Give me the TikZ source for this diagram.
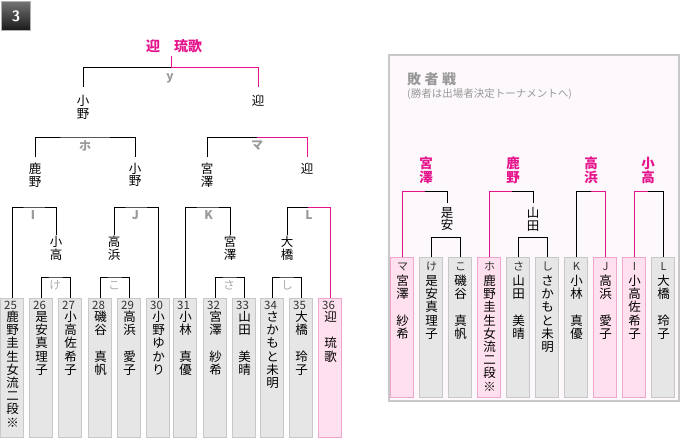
\documentclass[tikz,border=0pt]{standalone}
\usepackage{fontspec}
\newfontfamily\jp{Noto Sans CJK JP}
\definecolor{pk}{RGB}{230,20,140}
\definecolor{lblc}{RGB}{153,153,153}
\definecolor{lblc2}{RGB}{170,170,170}
\definecolor{gfill}{RGB}{230,230,230}
\definecolor{gline}{RGB}{200,200,200}
\definecolor{pfill}{RGB}{255,224,239}
\definecolor{pline}{RGB}{240,165,205}
\definecolor{panelbg}{RGB}{253,248,252}
\definecolor{panelln}{RGB}{200,200,200}
\definecolor{numc}{RGB}{51,51,51}
\makeatletter
\newdimen\vtpitch \vtpitch=13pt
\def\vtxtend@{VTEND}
\newcommand\vtxt[1]{\vtop{\baselineskip=\vtpitch\lineskiplimit=-100pt\lineskip=0pt\vtxt@loop#1\vtxtend@}}
\def\vtxt@loop#1{\ifx#1\vtxtend@\else\hbox to 1em{\hss#1\hss}\expandafter\vtxt@loop\fi}
\makeatother
\tikzset{
 ln/.style={line width=1pt,draw=black},
 pl/.style={line width=1pt,draw=pk},
 lbox/.style={draw=gline,fill=gfill,line width=1pt,minimum width=23pt,minimum height=139pt,inner sep=0pt,anchor=north},
 lpbox/.style={lbox,draw=pline,fill=pfill},
 rbox/.style={lbox,minimum width=23.5pt,minimum height=140pt},
 rpbox/.style={rbox,draw=pline,fill=pfill},
 vname/.style={inner sep=0pt,anchor=base,font={\jp\fontsize{12.5}{13}\selectfont\vtpitch=13.2pt}},
 tname/.style={inner xsep=0pt,anchor=north,font={\jp\fontsize{12.5}{13}\selectfont\vtpitch=12.5pt}},
 wname/.style={inner sep=0pt,anchor=base,text=pk,font={\jp\bfseries\fontsize{13.5}{14}\selectfont\vtpitch=14pt}},
 numl/.style={inner sep=0pt,anchor=base west,text=numc,font={\jp\fontsize{11.5}{12}\selectfont}},
 rlab/.style={inner sep=0pt,anchor=base,text=numc,font={\jp\fontsize{11}{12}\selectfont}},
 blbl/.style={inner sep=0pt,text=lblc,font={\jp\bfseries\fontsize{12}{12}\selectfont}},
 slbl/.style={inner sep=0pt,text=lblc2,font={\jp\fontsize{11.5}{12}\selectfont}},
}
\newcommand\leafL[5]{\node[#5] (#1) at (#2,298) {};
 \node[numl] at (#2-8,309) {#3};
 \node[vname] at (#2+0.5,321.5) {\vtxt{#4}};}
\newcommand\leafR[5]{\node[#5] (#1) at (#2,257.3) {};
 \node[rlab] at (#2+0.5,270.2) {#3};
 \node[vname] at (#2+0.5,285.5) {\vtxt{#4}};}
\begin{document}
\begin{tikzpicture}[x=1pt,y=-1pt]
\useasboundingbox (0,0) rectangle (680,440);
% badge
\node[draw=gray!60,line width=1pt,top color=black!55,bottom color=black!90,minimum size=29pt,inner sep=0pt,text=white,font={\sffamily\bfseries\fontsize{15}{15}\selectfont}] (badge) at (16,16) {3};
% ---------- left bracket ----------
\node[inner xsep=0pt,inner ysep=3.5pt,text=pk,font={\jp\bfseries\fontsize{14}{14}\selectfont}] (champ) at (174,46) {迎　琉歌};
\coordinate (jT) at (171,67);
\draw[pl] (jT) -- (jT |- champ.south);
\node[tname,inner ysep=8.5pt] (a1) at (83,86.7) {\vtxt{小野}};
\node[tname,inner ysep=8.5pt] (a2) at (258,86.7) {\vtxt{迎}};
\draw[ln] (a1.north) |- (jT);
\draw[pl] (jT) -| (a2.north);
\node[blbl] at (170,78) {y};
% level 2
\node[tname,inner ysep=5.5pt] (b1) at (35,157.3) {\vtxt{鹿野}};
\node[tname,inner ysep=5.5pt] (b2) at (135,157.3) {\vtxt{小野}};
\node[tname,inner ysep=5.5pt] (b3) at (207,157.3) {\vtxt{宮澤}};
\node[tname,inner ysep=5.5pt] (b4) at (307,157.3) {\vtxt{迎}};
\coordinate (jHo) at (85,137);
\coordinate (jMa) at (257,137);
\draw[ln] (b1.north) |- (jHo) -| (b2.north);
\draw[ln] (b3.north) |- (jMa);
\draw[pl] (jMa) -| (b4.north);
\node[blbl] at (85,146) {ホ};
\node[blbl] at (257,146) {マ};
% leaves
\leafL{l25}{12}{25}{鹿野圭生女流二段※}{lbox}
\leafL{l26}{41}{26}{是安真理子}{lbox}
\leafL{l27}{70}{27}{小高佐希子}{lbox}
\leafL{l28}{100}{28}{磯谷　真帆}{lbox}
\leafL{l29}{129}{29}{高浜　愛子}{lbox}
\leafL{l30}{158}{30}{小野ゆかり}{lbox}
\leafL{l31}{185}{31}{小林　真優}{lbox}
\leafL{l32}{215}{32}{宮澤　紗希}{lbox}
\leafL{l33}{244}{33}{山田　美晴}{lbox}
\leafL{l34}{272}{34}{さかもと未明}{lbox}
\leafL{l35}{301}{35}{大橋　玲子}{lbox}
\leafL{l36}{330}{36}{迎　琉歌}{lpbox}
% level 3
\node[tname,inner ysep=1.25pt] (c1) at (56,235) {\vtxt{小高}};
\node[tname,inner ysep=1.25pt] (c2) at (114,235) {\vtxt{高浜}};
\node[tname,inner ysep=1.25pt] (c3) at (230,235) {\vtxt{宮澤}};
\node[tname,inner ysep=1.25pt] (c4) at (287,235) {\vtxt{大橋}};
\coordinate (jI) at (34,207);
\coordinate (jJ) at (136,207);
\coordinate (jK) at (207.5,207);
\coordinate (jL) at (308,207);
\draw[ln] (l25.north) |- (jI) -| (c1.north);
\draw[ln] (c2.north) |- (jJ) -| (l30.north);
\draw[ln] (l31.north) |- (jK) -| (c3.north);
\draw[ln] (c4.north) |- (jL);
\draw[pl] (jL) -| (l36.north);
\node[blbl] at (33,215.5) {I};
\node[blbl] at (135.5,215.5) {J};
\node[blbl] at (208.5,215.5) {K};
\node[blbl] at (309,215.5) {L};
% level 4
\coordinate (jKe) at (55.5,277);
\coordinate (jKo) at (114.5,277);
\coordinate (jSa) at (229.5,277);
\coordinate (jShi) at (286.5,277);
\draw[ln] (l26.north) |- (jKe) -| (l27.north);
\draw[ln] (l28.north) |- (jKo) -| (l29.north);
\draw[ln] (l32.north) |- (jSa) -| (l33.north);
\draw[ln] (l34.north) |- (jShi) -| (l35.north);
\node[slbl] at (55,285.5) {け};
\node[slbl] at (114,285.5) {こ};
\node[slbl] at (229,285.5) {さ};
\node[slbl] at (287,285.5) {し};
% ---------- right panel ----------
\node[draw=panelln,fill=panelbg,line width=1.5pt,minimum width=290pt,minimum height=346pt,anchor=north west,inner sep=0pt] (panel) at (388,54) {};
\node[anchor=base west,inner sep=0pt,text=lblc,font={\jp\bfseries\fontsize{14}{14}\selectfont}] (ptitle) at (407,84.3) {敗\hspace{3.5pt}者\hspace{3.5pt}戦};
\node[anchor=base west,inner sep=0pt,text=lblc,font={\jp\fontsize{10.5}{11}\selectfont}] (psub) at (407,97) {(勝者は出場者決定トーナメントへ)};
\node[wname] (w1) at (426,168) {\vtxt{宮澤}};
\node[wname] (w2) at (513,168) {\vtxt{鹿野}};
\node[wname] (w3) at (591,168) {\vtxt{高浜}};
\node[wname] (w4) at (648,168) {\vtxt{小高}};
\leafR{rMa}{402}{マ}{宮澤　紗希}{rpbox}
\leafR{rKe}{431}{け}{是安真理子}{rbox}
\leafR{rKo}{460}{こ}{磯谷　真帆}{rbox}
\leafR{rHo}{489}{ホ}{鹿野圭生女流二段※}{rpbox}
\leafR{rSa}{518}{さ}{山田　美晴}{rbox}
\leafR{rShi}{547}{し}{さかもと未明}{rbox}
\leafR{rK}{576}{K}{小林　真優}{rbox}
\leafR{rJ}{605}{J}{高浜　愛子}{rpbox}
\leafR{rI}{634}{I}{小高佐希子}{rpbox}
\leafR{rL}{663}{L}{大橋　玲子}{rbox}
\node[tname,inner ysep=4pt] (s1) at (447,203.3) {\vtxt{是安}};
\node[tname,inner ysep=4pt] (s2) at (533,203.3) {\vtxt{山田}};
\coordinate (r1) at (425,191);
\coordinate (r2) at (512,191);
\coordinate (r3) at (591,191);
\coordinate (r4) at (648,191);
\coordinate (rs1) at (446,237.7);
\coordinate (rs2) at (532.5,237.7);
\draw[pl] (rMa.north) |- (r1);
\draw[ln] (r1) -| (s1.north);
\draw[ln] (rKe.north) |- (rs1) -| (rKo.north);
\draw[pl] (rHo.north) |- (r2);
\draw[ln] (r2) -| (s2.north);
\draw[ln] (rSa.north) |- (rs2) -| (rShi.north);
\draw[ln] (rK.north) |- (r3);
\draw[pl] (r3) -| (rJ.north);
\draw[pl] (rI.north) |- (r4);
\draw[ln] (r4) -| (rL.north);
\end{tikzpicture}
\end{document}
